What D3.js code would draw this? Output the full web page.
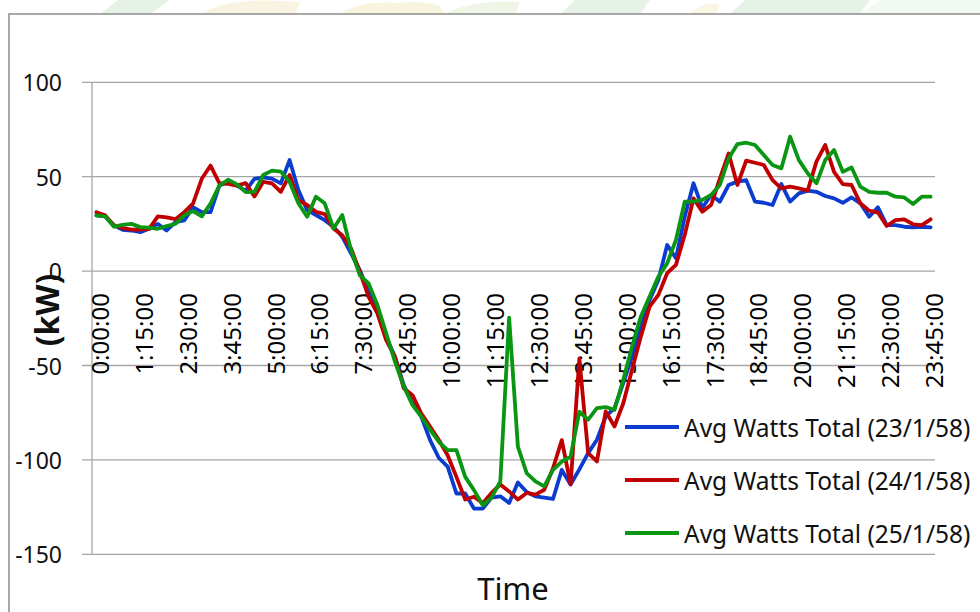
<!DOCTYPE html>
<meta charset="utf-8">
<style>
    body {
        margin: 0;
        background: #fff;
    }

    .tick-label {
        font: 23px "Noto Sans", sans-serif;
        fill: #111;
    }

    .cat-label {
        font: 24px "Noto Sans", sans-serif;
        fill: #000;
    }

    .grid {
        stroke: #a6a6a6;
        stroke-width: 1.3;
    }

    .series {
        fill: none;
        stroke-width: 3.8;
        stroke-linejoin: round;
        stroke-linecap: round;
    }

    .legend-text {
        font: 24.5px "Noto Sans", sans-serif;
        fill: #111;
    }
</style>

<body>
    <script src="https://d3js.org/d3.v7.min.js"></script>
    <script>
        // Data, one reading every 15 minutes (96 per day)
        var times = [];
        for (var h = 0; h < 24; h++) {
            for (var m = 0; m < 60; m += 15) {
                times.push(h + ":" + (m < 10 ? "0" + m : m) + ":00");
            }
        }

        var seriesNames = ["Avg Watts Total (23/1/58)", "Avg Watts Total (24/1/58)", "Avg Watts Total (25/1/58)"];
        var seriesColors = ["#0a3ccf", "#c00000", "#0a9612"];

        var watts23 = [29.5, 29, 24.2, 21.9, 21.5, 20.6, 22.4, 25, 21.5, 26,
            26.8, 33.9, 31.2, 31.2, 45.3, 47.1, 45.3, 42.6, 48.9, 49.6,
            49, 46.5, 58.8, 43, 32.3, 29.7, 27, 23.5, 18.2, 9.4,
            0.5, -11, -20.7, -34.8, -45.4, -60.4, -70, -77, -89.5, -99,
            -103.6, -117.8, -117.8, -125.8, -125.8, -120, -119.3, -122.8, -112, -117,
            -119.3, -120, -120.7, -105.3, -113, -105, -96.4, -89.3, -77, -72.6,
            -59.3, -45.2, -29.4, -15.3, -4.7, 13.8, 6.8, 28.8, 46.5, 33.5,
            40.3, 36.8, 45.6, 47.4, 48.2, 36.8, 36.2, 35, 46.1, 36.8,
            41.2, 42.6, 42, 39.8, 38.5, 36.2, 39, 35.9, 28.8, 33.8,
            24.4, 24.4, 23.5, 23.2, 23.5, 23.2];

        var watts24 = [31.2, 29.5, 24.2, 22.8, 22, 22, 22.4, 29, 28.5, 27.5,
            31.2, 35.7, 48.9, 55.9, 46.6, 46.2, 45.3, 46.6, 39.5, 47.3,
            46.5, 42, 50.9, 37.6, 35, 31.4, 30.2, 22.6, 19, 12,
            -0.4, -13.6, -22.4, -36.6, -45.4, -62, -65.7, -75.4, -82.4, -89.5,
            -97.5, -109, -121, -119.5, -123, -117.5, -113, -116.7, -121, -117.5,
            -118.4, -115.8, -104.4, -89.5, -113, -46.3, -96.4, -100.8, -74.3, -82.3,
            -70, -52.3, -34.7, -18.8, -12.6, -1.1, 3.3, 19.1, 38.5, 31.5,
            35, 49, 62.3, 45.6, 58.5, 57.4, 56.2, 48.2, 43.8, 44.7,
            43.8, 42.6, 58, 66.8, 52.6, 46.1, 45.6, 35.9, 32, 31,
            23.9, 27, 27.4, 24.8, 24.4, 27.4];

        var watts25 = [29.5, 29, 23.5, 24.5, 25, 23.3, 23, 22.4, 23.9, 25,
            29.5, 31.8, 29, 35.7, 45.3, 48.4, 45.9, 41.8, 42, 50.9,
            53.2, 52.7, 47.3, 35.9, 28.8, 39.4, 35.9, 22.6, 29.7, 11.1,
            -2.1, -6.5, -18, -33, -48, -61, -71, -77, -84, -90.4,
            -94.8, -94.8, -109, -116, -124, -120, -111.4, -24.6, -93, -107,
            -111.4, -114, -105.3, -100.9, -98.2, -74.5, -78.7, -72.6, -72, -73.5,
            -57.6, -40, -24, -13.5, -2.9, 4.1, 16.5, 36.8, 36.8, 37.7,
            40.3, 45.6, 59.7, 67.3, 68, 66.8, 61.5, 56.2, 54.4, 71.2,
            58.8, 51.8, 46.5, 58.8, 64.1, 52.6, 54.9, 44.7, 42, 41.5,
            41.5, 39.4, 39, 35.5, 39.4, 39.4];

        var allSeries = [watts23, watts24, watts25];
        var yTicks = [-150, -100, -50, 0, 50, 100];
        var labelStep = 5; // a label every 1:15

        var width = 980,
            height = 612;

        var svg = d3.select("body").append("svg")
            .attr("width", width)
            .attr("height", height);

        // faded watermark strip above the chart frame
        var mark = svg.append("g").attr("opacity", 0.22);
        mark.append("path").attr("d", "M100,14 L118,0 L170,0 L150,14 Z").attr("fill", "#8fc98f");
        mark.append("path").attr("d", "M200,14 Q230,-4 300,2 L295,14 Z").attr("fill", "#e8d27a");
        mark.append("path").attr("d", "M340,14 Q360,0 400,3 Q420,0 440,6 L445,14 Z").attr("fill", "#e6cf6a");
        mark.append("path").attr("d", "M445,14 Q470,0 520,2 L515,14 Z").attr("fill", "#b9d98b");
        mark.append("path").attr("d", "M560,14 L575,0 L650,0 L640,14 Z").attr("fill", "#8fc98f");
        mark.append("path").attr("d", "M690,14 Q700,2 720,4 L715,14 Z").attr("fill", "#ecd98a");
        mark.append("path").attr("d", "M730,14 L745,0 L870,0 L860,14 Z").attr("fill", "#8fc98f");
        mark.append("path").attr("d", "M860,14 L880,0 L980,0 L980,14 Z").attr("fill", "#c7e3c7");

        // chart frame
        svg.append("rect")
            .attr("x", 9)
            .attr("y", 14)
            .attr("width", width + 20)
            .attr("height", height + 20)
            .attr("fill", "#fff")
            .attr("stroke", "#8c8c8c")
            .attr("stroke-width", 1.5);

        // scales
        var plotLeft = 92,
            plotRight = 935;

        var x = d3.scalePoint()
            .domain(d3.range(times.length))
            .range([plotLeft, plotRight])
            .padding(0.5);

        var y = d3.scaleLinear()
            .domain([-150, 100])
            .range([554.3, 82.3]);

        // horizontal gridlines (they start at the tick mark)
        svg.append("g")
            .selectAll("line")
            .data(yTicks)
            .enter().append("line")
            .attr("class", "grid")
            .attr("x1", plotLeft - 10)
            .attr("x2", plotRight)
            .attr("y1", d => y(d))
            .attr("y2", d => y(d));

        // y axis line
        svg.append("line")
            .attr("class", "grid")
            .attr("x1", plotLeft)
            .attr("x2", plotLeft)
            .attr("y1", y(100))
            .attr("y2", y(-150));

        svg.append("g")
            .selectAll("text")
            .data(yTicks)
            .enter().append("text")
            .attr("class", "tick-label")
            .attr("x", 62)
            .attr("y", d => y(d))
            .attr("text-anchor", "end")
            .attr("dominant-baseline", "central")
            .text(d => d);

        // category labels, rotated, just under the zero line
        svg.append("g")
            .selectAll("text")
            .data(d3.range(0, times.length, labelStep))
            .enter().append("text")
            .attr("class", "cat-label")
            .attr("transform", d => "translate(" + (x(d) + 3) + "," + (y(0) + 22) + ") rotate(-90)")
            .attr("text-anchor", "end")
            .attr("dominant-baseline", "central")
            .text(d => times[d]);

        // lines
        var line = d3.line()
            .x((d, i) => x(i))
            .y(d => y(d));

        svg.append("g")
            .selectAll("path")
            .data(allSeries)
            .enter().append("path")
            .attr("class", "series")
            .attr("stroke", (d, i) => seriesColors[i])
            .attr("d", line);

        // legend
        var legend = svg.append("g")
            .selectAll("g")
            .data(seriesNames)
            .enter().append("g")
            .attr("transform", (d, i) => "translate(625," + (427 + i * 53) + ")");

        legend.append("line")
            .attr("x1", 0)
            .attr("x2", 54)
            .attr("stroke", (d, i) => seriesColors[i])
            .attr("stroke-width", 3.8);

        legend.append("text")
            .attr("class", "legend-text")
            .attr("x", 59)
            .attr("dominant-baseline", "central")
            .text(d => d);

        // axis titles
        svg.append("text")
            .attr("transform", "translate(46,310) rotate(-90)")
            .attr("text-anchor", "middle")
            .attr("dominant-baseline", "central")
            .style("font", "bold 32px 'Noto Sans', sans-serif")
            .attr("fill", "#111")
            .text("(kW)");

        svg.append("text")
            .attr("x", 513)
            .attr("y", 600)
            .attr("text-anchor", "middle")
            .style("font", "31px 'Noto Sans', sans-serif")
            .attr("fill", "#111")
            .text("Time");
    </script>
</body>
